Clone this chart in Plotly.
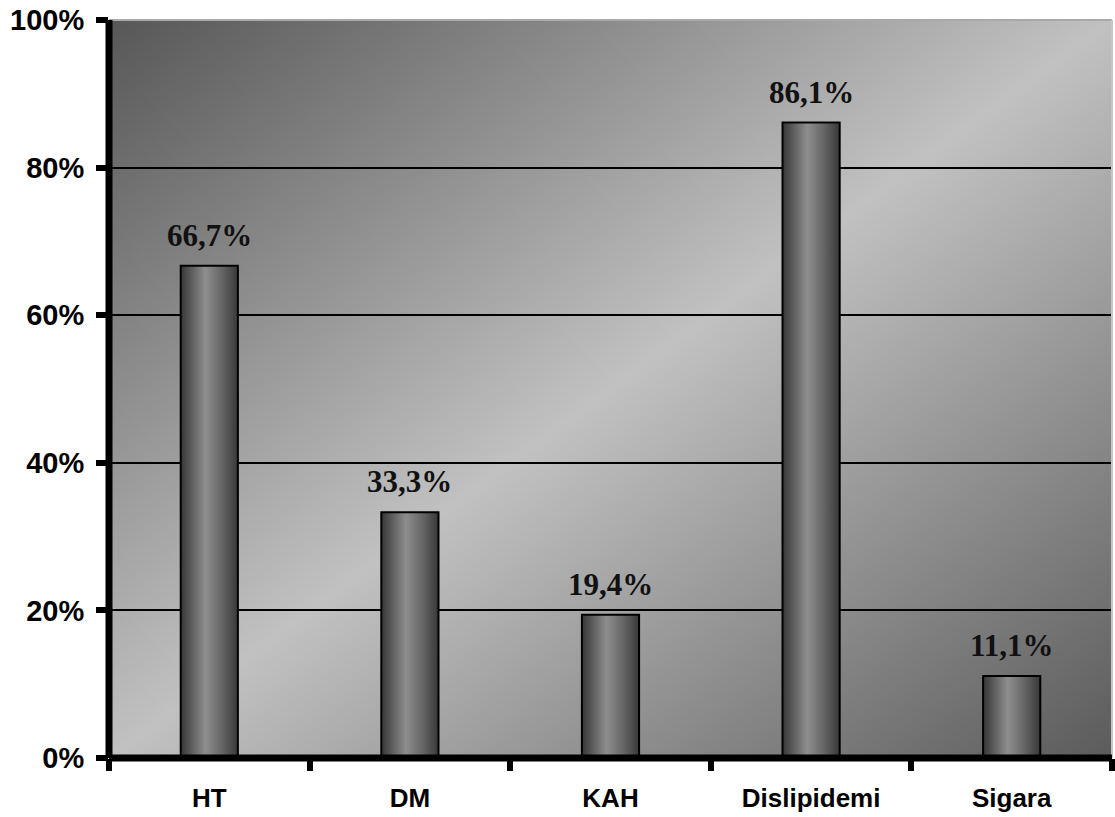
import base64
import plotly.graph_objects as go

# Risk factor prevalence (%)
categories = ["HT", "DM", "KAH", "Dislipidemi", "Sigara"]
values = [66.7, 33.3, 19.4, 86.1, 11.1]
y_ticks = [0, 20, 40, 60, 80, 100]
y_tick_labels = [f"{t}%" for t in y_ticks]

BAR_W = 0.285
bar_scale = [[0.0, "#363636"], [0.22, "#636363"], [0.43, "#8e8e8e"],
             [0.72, "#666666"], [1.0, "#383838"]]


def svg_uri(svg):
    return "data:image/svg+xml;base64," + base64.b64encode(svg.encode()).decode()


# diagonal shaded backdrop for the plotting area
backdrop = svg_uri(
    '<svg xmlns="http://www.w3.org/2000/svg" width="1000" height="740" '
    'viewBox="0 0 100 100" preserveAspectRatio="none">'
    '<defs><linearGradient id="g" x1="0" y1="0" x2="1" y2="1">'
    '<stop offset="0" stop-color="#575757"/>'
    '<stop offset="0.5" stop-color="#c1c1c1"/>'
    '<stop offset="1" stop-color="#5b5b5b"/>'
    '</linearGradient></defs>'
    '<rect x="0" y="0" width="100" height="100" fill="url(#g)"/></svg>'
)

fig = go.Figure()

# each column as a filled outline with a horizontal cylinder shading
for i, v in enumerate(values):
    x0, x1 = i - BAR_W / 2, i + BAR_W / 2
    fig.add_trace(go.Scatter(
        x=[x0, x0, x1, x1, x0], y=[0, v, v, 0, 0],
        mode="lines", fill="toself",
        fillgradient=dict(type="horizontal", colorscale=bar_scale),
        line=dict(color="black", width=2),
        hoverinfo="skip", showlegend=False,
    ))

# value labels above the columns
for i, v in enumerate(values):
    fig.add_annotation(
        x=i, y=v, xref="x", yref="y",
        text=f"{v:.1f}".replace(".", ",") + "%",
        showarrow=False, yanchor="bottom", yshift=11,
        font=dict(family="Liberation Serif", size=31, color="#111111", weight="bold"),
    )

fig.update_layout(
    width=1115, height=817,
    margin=dict(l=109, r=3, t=20, b=59),
    paper_bgcolor="white", plot_bgcolor="rgba(0,0,0,0)",
    showlegend=False,
    images=[dict(source=backdrop, xref="paper", yref="paper", x=0, y=1,
                 sizex=1, sizey=1, xanchor="left", yanchor="top",
                 sizing="stretch", layer="below")],
    xaxis=dict(
        range=[-0.5, len(categories) - 0.5],
        tickvals=list(range(len(categories))), ticktext=categories,
        ticks="", showgrid=False, zeroline=False, showline=False,
        tickfont=dict(family="Liberation Sans", size=26, color="black", weight="bold"),
        ticklabelstandoff=22,
        minor=dict(tick0=-0.5, dtick=1, ticks="outside", ticklen=12,
                   tickwidth=6, tickcolor="black", showgrid=False),
    ),
    yaxis=dict(
        range=[0, 100], tickvals=y_ticks, ticktext=y_tick_labels,
        ticks="outside", ticklen=12, tickwidth=6, tickcolor="black",
        showgrid=True, gridcolor="black", gridwidth=2,
        zeroline=False, showline=False,
        tickfont=dict(family="Liberation Sans", size=29, color="black", weight="bold"),
        ticklabelstandoff=6,
    ),
    shapes=[
        # light frame on top and right
        dict(type="line", xref="paper", yref="paper", x0=0, x1=1, y0=1, y1=1,
             line=dict(color="#a9a9a9", width=2), layer="above"),
        dict(type="line", xref="paper", yref="paper", x0=1, x1=1, y0=0, y1=1,
             line=dict(color="#c6c6c6", width=2), layer="above"),
        # heavy axis lines
        dict(type="line", xref="paper", yref="paper", x0=0, x1=0, y0=0, y1=1,
             line=dict(color="black", width=7), layer="above"),
        dict(type="line", xref="paper", yref="paper", x0=0, x1=1, y0=0, y1=0,
             line=dict(color="black", width=7), layer="above"),
    ],
)

fig.write_html("out.html")
